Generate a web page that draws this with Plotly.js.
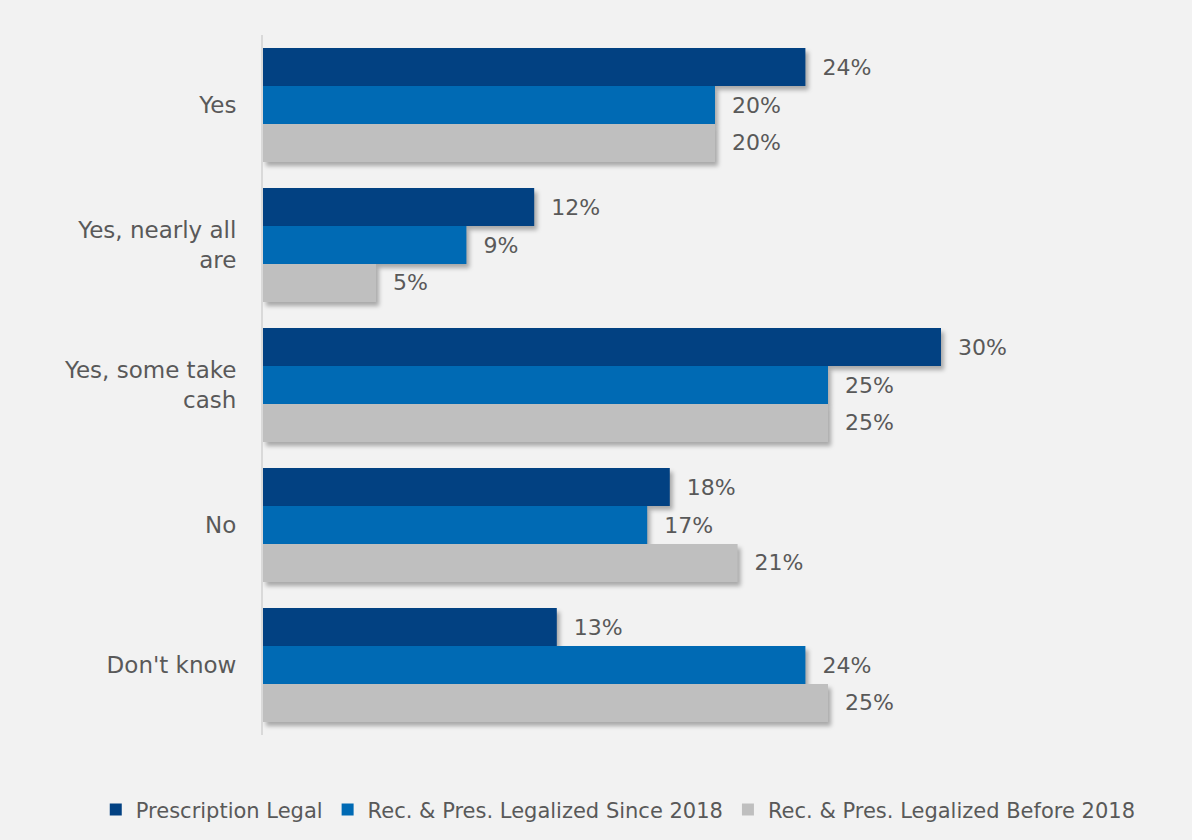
<!DOCTYPE html>
<html><head><meta charset="utf-8">
<script src="https://cdn.plot.ly/plotly-3.0.1.min.js"></script>
<style>
html,body{margin:0;padding:0;background:#f2f2f2;}
#chart{width:1192px;height:840px;}
.barlayer .point path{filter:drop-shadow(3px 4px 2px rgba(0,0,0,0.3));}
</style></head>
<body><div id="chart"></div>
<script>
const categories = ["Yes", "Yes, nearly all<br>are", "Yes, some take<br>cash", "No", "Don't know"];
const seriesNames = ["Prescription Legal", "Rec. & Pres. Legalized Since 2018", "Rec. & Pres. Legalized Before 2018"];
const prescriptionLegal = [24, 12, 30, 18, 13];
const legalizedSince2018 = [20, 9, 25, 17, 24];
const legalizedBefore2018 = [20, 5, 25, 21, 25];
const colors = ["#024182", "#006ab4", "#bfbfbf"];

const values = [prescriptionLegal, legalizedSince2018, legalizedBefore2018];
const fontFam = "DejaVu Sans, sans-serif";
const traces = values.map((v, i) => ({
  type: "bar",
  orientation: "h",
  name: seriesNames[i],
  y: categories,
  x: v,
  marker: {color: colors[i]},
  text: v.map(d => "\u00a0\u00a0" + d + "%"),
  textposition: "outside",
  textfont: {family: fontFam, size: 22, color: "#595959"},
  cliponaxis: false,
  hoverinfo: "skip"
}));

const layout = {
  width: 1192, height: 840,
  paper_bgcolor: "#f2f2f2", plot_bgcolor: "#f2f2f2",
  margin: {l: 263, r: 25, t: 35, b: 105, autoexpand: false},
  barmode: "group", bargap: 0.186, bargroupgap: 0,
  font: {family: fontFam, color: "#595959"},
  xaxis: {range: [0, 40], autorange: false, showgrid: false, zeroline: false, showticklabels: false, ticks: "", showline: false, fixedrange: true},
  yaxis: {autorange: "reversed", showline: true, linecolor: "#d9d9d9", linewidth: 2, ticks: "", ticklen: 0,
          tickfont: {family: fontFam, size: 23, color: "#595959"}, ticklabelstandoff: 20, showgrid: false},
  showlegend: true,
  legend: {orientation: "h", x: -0.185, xanchor: "left", y: -0.107, yanchor: "middle",
           font: {family: fontFam, size: 21, color: "#595959"}, itemwidth: 30, traceorder: "normal"}
};
Plotly.newPlot("chart", traces, layout, {displayModeBar: false, staticPlot: true});
</script></body></html>
